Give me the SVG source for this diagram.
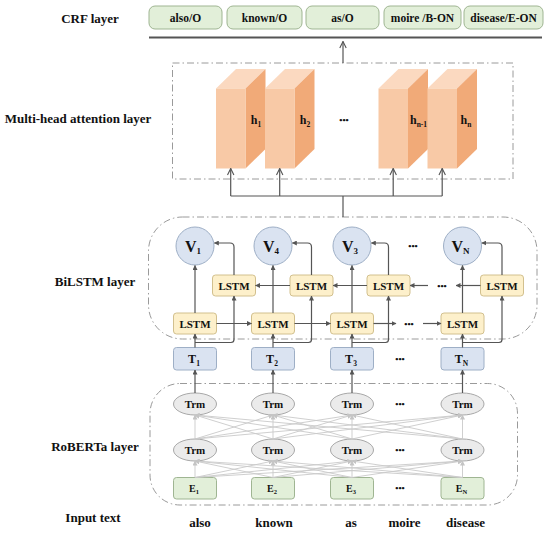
<svg xmlns="http://www.w3.org/2000/svg" width="550" height="533" viewBox="0 0 550 533">
<defs>
<style>
text{font-family:"Liberation Serif","Times New Roman",serif;font-weight:bold;fill:#111;text-anchor:middle}
.lbl{font-size:13px}
.crf{fill:#e2efd9;stroke:#9fb592;stroke-width:1}
.ct{font-size:11.5px}
.dash{fill:none;stroke:#9a9a9a;stroke-width:1;stroke-dasharray:7,3,1.5,3}
.front{fill:#f8c9a6}
.side{fill:#f1aa78}
.top{fill:#fbd9c0}
.lstm{fill:#fdf0cb;stroke:#d2c08e;stroke-width:1}
.lt{font-size:11px}
.blue{fill:#dae3f1;stroke:#9eafc6;stroke-width:1}
.trm{fill:#ebebeb;stroke:#a8a8a8;stroke-width:1}
.green{fill:#e2efd9;stroke:#9fb592;stroke-width:1}
.ln{fill:none;stroke:#555;stroke-width:1.2}
.lo{fill:none;stroke:#555;stroke-width:1.2;marker-end:url(#open)}
.lf{fill:none;stroke:#555;stroke-width:1.2;marker-end:url(#fill)}
.lg{fill:none;stroke:#c9c9c9;stroke-width:0.9;marker-end:url(#gray)}
.dots{font-size:9px}
</style>
<marker id="open" viewBox="0 0 10 10" refX="9" refY="5" markerWidth="8" markerHeight="8" orient="auto" markerUnits="userSpaceOnUse"><path d="M1,1 L9,5 L1,9" fill="none" stroke="#555" stroke-width="1.4"/></marker>
<marker id="fill" viewBox="0 0 10 10" refX="9" refY="5" markerWidth="5" markerHeight="5" orient="auto" markerUnits="userSpaceOnUse"><path d="M0,0 L10,5 L0,10 z" fill="#555"/></marker>
<marker id="gray" viewBox="0 0 10 10" refX="9" refY="5" markerWidth="5" markerHeight="5" orient="auto" markerUnits="userSpaceOnUse"><path d="M0,0 L10,5 L0,10 z" fill="#c4c4c4"/></marker>
</defs>
<rect width="550" height="533" fill="#fff"/>

<g id="labels">
<text class="lbl" x="90" y="23">CRF layer</text>
<text class="lbl" x="78" y="123">Multi-head attention layer</text>
<text class="lbl" x="95" y="286">BiLSTM layer</text>
<text class="lbl" x="95" y="451">RoBERTa layer</text>
<text class="lbl" x="93" y="522">Input text</text>
</g>

<g id="frames">
<rect class="dash" x="172.5" y="63" width="340.5" height="116"/>
<rect class="dash" x="148.5" y="217" width="388.5" height="122" rx="34" ry="34"/>
<rect class="dash" x="150" y="383.5" width="367.5" height="121.5" rx="30" ry="30"/>
</g>

<g id="crf">
<g id="crf-also"><rect class="crf" x="149" y="6" width="73" height="23" rx="6"/><text class="ct" x="185.5" y="21.5">also/O</text></g>
<g id="crf-known"><rect class="crf" x="227" y="6" width="75" height="23" rx="6"/><text class="ct" x="264.5" y="21.5">known/O</text></g>
<g id="crf-as"><rect class="crf" x="306" y="6" width="73" height="23" rx="6"/><text class="ct" x="342.5" y="21.5">as/O</text></g>
<g id="crf-moire"><rect class="crf" x="384" y="6" width="77" height="23" rx="6"/><text class="ct" x="422.5" y="21.5">moire /B-ON</text></g>
<g id="crf-disease"><rect class="crf" x="464" y="6" width="79" height="23" rx="6"/><text class="ct" x="503.5" y="21.5">disease/E-ON</text></g>
<line x1="149" y1="37.5" x2="542" y2="37.5" stroke="#555" stroke-width="2.2"/>
</g>

<g id="heads">
<g id="h1"><polygon class="top" points="216,88.5 245.5,88.5 265.5,69 236,69"/><polygon class="side" points="245.5,88.5 265.5,69 265.5,149 245.5,168.5"/><rect class="front" x="216" y="88.5" width="29.5" height="80"/><text x="256" y="124" style="font-size:12px">h<tspan style="font-size:7.5px" dy="2.5">1</tspan></text></g>
<g id="h2"><polygon class="top" points="265,88.5 294.5,88.5 314.5,69 285,69"/><polygon class="side" points="294.5,88.5 314.5,69 314.5,149 294.5,168.5"/><rect class="front" x="265" y="88.5" width="29.5" height="80"/><text x="305" y="124" style="font-size:12px">h<tspan style="font-size:7.5px" dy="2.5">2</tspan></text></g>
<g id="h3"><polygon class="top" points="378.5,88.5 408,88.5 428,69 398.5,69"/><polygon class="side" points="408,88.5 428,69 428,149 408,168.5"/><rect class="front" x="378.5" y="88.5" width="29.5" height="80"/><text x="418.5" y="124" style="font-size:12px">h<tspan style="font-size:7.5px" dy="2.5">n-1</tspan></text></g>
<g id="h4"><polygon class="top" points="427.5,88.5 457,88.5 477,69 447.5,69"/><polygon class="side" points="457,88.5 477,69 477,149 457,168.5"/><rect class="front" x="427.5" y="88.5" width="29.5" height="80"/><text x="466" y="124" style="font-size:12px">h<tspan style="font-size:7.5px" dy="2.5">n</tspan></text></g>
<text class="dots" x="344" y="123">•••</text>
</g>

<g id="v-nodes">
<g id="v1"><circle class="blue" cx="195" cy="246" r="19"/><text x="193" y="251.5" style="font-size:16px">V<tspan style="font-size:9px" dy="2.5">1</tspan></text></g>
<g id="v4"><circle class="blue" cx="273" cy="246" r="19"/><text x="271" y="251.5" style="font-size:16px">V<tspan style="font-size:9px" dy="2.5">4</tspan></text></g>
<g id="v3"><circle class="blue" cx="352" cy="246" r="19"/><text x="350" y="251.5" style="font-size:16px">V<tspan style="font-size:9px" dy="2.5">3</tspan></text></g>
<g id="vN"><circle class="blue" cx="462.5" cy="246" r="19"/><text x="460.5" y="251.5" style="font-size:16px">V<tspan style="font-size:9px" dy="2.5">N</tspan></text></g>
<text class="dots" x="413" y="249">•••</text>
</g>

<g id="lstm-backward">
<g id="lb1"><rect class="lstm" x="212.5" y="275" width="43" height="21" rx="3"/><text class="lt" x="234" y="289.5">LSTM</text></g>
<g id="lb2"><rect class="lstm" x="290" y="275" width="43" height="21" rx="3"/><text class="lt" x="311.5" y="289.5">LSTM</text></g>
<g id="lb3"><rect class="lstm" x="367" y="275" width="43" height="21" rx="3"/><text class="lt" x="388.5" y="289.5">LSTM</text></g>
<g id="lb4"><rect class="lstm" x="480.5" y="275" width="43" height="21" rx="3"/><text class="lt" x="502" y="289.5">LSTM</text></g>
<text class="dots" x="442" y="289">•••</text>
</g>

<g id="lstm-forward">
<g id="lf1"><rect class="lstm" x="173.5" y="313" width="43" height="21" rx="3"/><text class="lt" x="195" y="327.5">LSTM</text></g>
<g id="lf2"><rect class="lstm" x="251.5" y="313" width="43" height="21" rx="3"/><text class="lt" x="273" y="327.5">LSTM</text></g>
<g id="lf3"><rect class="lstm" x="330.5" y="313" width="43" height="21" rx="3"/><text class="lt" x="352" y="327.5">LSTM</text></g>
<g id="lf4"><rect class="lstm" x="441" y="313" width="43" height="21" rx="3"/><text class="lt" x="462.5" y="327.5">LSTM</text></g>
<text class="dots" x="409" y="327">•••</text>
</g>

<g id="t-nodes">
<g id="t1"><rect class="blue" x="173.5" y="347.5" width="43" height="22.5" rx="3"/><text x="194" y="363" style="font-size:12px">T<tspan style="font-size:7.5px" dy="2.5">1</tspan></text></g>
<g id="t2"><rect class="blue" x="251.5" y="347.5" width="43" height="22.5" rx="3"/><text x="272" y="363" style="font-size:12px">T<tspan style="font-size:7.5px" dy="2.5">2</tspan></text></g>
<g id="t3"><rect class="blue" x="330.5" y="347.5" width="43" height="22.5" rx="3"/><text x="351" y="363" style="font-size:12px">T<tspan style="font-size:7.5px" dy="2.5">3</tspan></text></g>
<g id="tN"><rect class="blue" x="441" y="347.5" width="43" height="22.5" rx="3"/><text x="461.5" y="363" style="font-size:12px">T<tspan style="font-size:7.5px" dy="2.5">N</tspan></text></g>
<text class="dots" x="400" y="362">•••</text>
</g>

<g id="trm-top">
<g id="trm1a"><ellipse class="trm" cx="195" cy="404" rx="21.5" ry="11"/><text class="lt" x="195" y="408">Trm</text></g>
<g id="trm2a"><ellipse class="trm" cx="273" cy="404" rx="21.5" ry="11"/><text class="lt" x="273" y="408">Trm</text></g>
<g id="trm3a"><ellipse class="trm" cx="352" cy="404" rx="21.5" ry="11"/><text class="lt" x="352" y="408">Trm</text></g>
<g id="trm4a"><ellipse class="trm" cx="462.5" cy="404" rx="21.5" ry="11"/><text class="lt" x="462.5" y="408">Trm</text></g>
<text class="dots" x="400" y="407">•••</text>
</g>

<g id="trm-bottom">
<g id="trm1b"><ellipse class="trm" cx="195" cy="450" rx="21.5" ry="11"/><text class="lt" x="195" y="454">Trm</text></g>
<g id="trm2b"><ellipse class="trm" cx="273" cy="450" rx="21.5" ry="11"/><text class="lt" x="273" y="454">Trm</text></g>
<g id="trm3b"><ellipse class="trm" cx="352" cy="450" rx="21.5" ry="11"/><text class="lt" x="352" y="454">Trm</text></g>
<g id="trm4b"><ellipse class="trm" cx="462.5" cy="450" rx="21.5" ry="11"/><text class="lt" x="462.5" y="454">Trm</text></g>
<text class="dots" x="400" y="453">•••</text>
</g>

<g id="e-nodes">
<g id="e1"><rect class="green" x="173.5" y="477.5" width="43" height="21.5" rx="3"/><text x="194" y="491.5" style="font-size:10px">E<tspan style="font-size:6.5px" dy="2">1</tspan></text></g>
<g id="e2"><rect class="green" x="251.5" y="477.5" width="43" height="21.5" rx="3"/><text x="272" y="491.5" style="font-size:10px">E<tspan style="font-size:6.5px" dy="2">2</tspan></text></g>
<g id="e3"><rect class="green" x="330.5" y="477.5" width="43" height="21.5" rx="3"/><text x="351" y="491.5" style="font-size:10px">E<tspan style="font-size:6.5px" dy="2">3</tspan></text></g>
<g id="eN"><rect class="green" x="441" y="477.5" width="43" height="21.5" rx="3"/><text x="461.5" y="491.5" style="font-size:10px">E<tspan style="font-size:6.5px" dy="2">N</tspan></text></g>
<text class="dots" x="400" y="491">•••</text>
</g>

<g id="words">
<text class="lbl" x="200" y="527">also</text>
<text class="lbl" x="274" y="527">known</text>
<text class="lbl" x="351" y="527">as</text>
<text class="lbl" x="404.5" y="527">moire</text>
<text class="lbl" x="465.5" y="527">disease</text>
</g>

<g id="connectors">
<line class="lo" x1="343" y1="63" x2="343" y2="41.5"/>
<line class="ln" x1="343" y1="217" x2="343" y2="196"/>
<line class="ln" x1="230.7" y1="196" x2="442.2" y2="196"/>
<line class="lo" x1="230.7" y1="196" x2="230.7" y2="168.5"/>
<line class="lo" x1="279.7" y1="196" x2="279.7" y2="168.5"/>
<line class="lo" x1="393.2" y1="196" x2="393.2" y2="168.5"/>
<line class="lo" x1="442.2" y1="196" x2="442.2" y2="168.5"/>

<line class="lf" x1="195" y1="313" x2="195" y2="265.5"/>
<line class="lf" x1="273" y1="313" x2="273" y2="265.5"/>
<line class="lf" x1="352" y1="313" x2="352" y2="265.5"/>
<line class="lf" x1="462.5" y1="313" x2="462.5" y2="265.5"/>

<path class="lf" d="M234,275 V247 Q234,243 230,243 H214.3"/>
<path class="lf" d="M311.5,275 V247 Q311.5,243 307.5,243 H292.3"/>
<path class="lf" d="M388.5,275 V247 Q388.5,243 384.5,243 H371.3"/>
<path class="lf" d="M502,275 V247 Q502,243 498,243 H481.8"/>

<line class="lf" x1="216.5" y1="323.5" x2="251.5" y2="323.5"/>
<line class="lf" x1="294.5" y1="323.5" x2="330.5" y2="323.5"/>
<line class="lf" x1="373.5" y1="323.5" x2="396" y2="323.5"/>
<line class="lf" x1="423" y1="323.5" x2="441" y2="323.5"/>

<line class="lf" x1="290" y1="285.5" x2="255.5" y2="285.5"/>
<line class="lf" x1="367" y1="285.5" x2="333" y2="285.5"/>
<line class="lf" x1="428" y1="285.5" x2="410" y2="285.5"/>
<line class="lf" x1="480.5" y1="285.5" x2="456" y2="285.5"/>

<line class="lf" x1="195" y1="347.5" x2="195" y2="334"/>
<line class="lf" x1="273" y1="347.5" x2="273" y2="334"/>
<line class="lf" x1="352" y1="347.5" x2="352" y2="334"/>
<line class="lf" x1="462.5" y1="347.5" x2="462.5" y2="334"/>
<path class="lf" d="M195,342.5 H231 Q234,342.5 234,339.5 V296"/>
<path class="lf" d="M273,342.5 H308.5 Q311.5,342.5 311.5,339.5 V296"/>
<path class="lf" d="M352,342.5 H385.5 Q388.5,342.5 388.5,339.5 V296"/>
<path class="lf" d="M462.5,342.5 H499 Q502,342.5 502,339.5 V296"/>

<line class="lf" x1="195" y1="393" x2="195" y2="370"/>
<line class="lf" x1="273" y1="393" x2="273" y2="370"/>
<line class="lf" x1="352" y1="393" x2="352" y2="370"/>
<line class="lf" x1="462.5" y1="393" x2="462.5" y2="370"/>

<g id="trm-links">
<line class="lg" x1="195" y1="439" x2="195" y2="415"/>
<line class="lg" x1="195" y1="439" x2="273" y2="415"/>
<line class="lg" x1="195" y1="439" x2="352" y2="415"/>
<line class="lg" x1="195" y1="439" x2="462.5" y2="415"/>
<line class="lg" x1="273" y1="439" x2="195" y2="415"/>
<line class="lg" x1="273" y1="439" x2="273" y2="415"/>
<line class="lg" x1="273" y1="439" x2="352" y2="415"/>
<line class="lg" x1="273" y1="439" x2="462.5" y2="415"/>
<line class="lg" x1="352" y1="439" x2="195" y2="415"/>
<line class="lg" x1="352" y1="439" x2="273" y2="415"/>
<line class="lg" x1="352" y1="439" x2="352" y2="415"/>
<line class="lg" x1="352" y1="439" x2="462.5" y2="415"/>
<line class="lg" x1="462.5" y1="439" x2="195" y2="415"/>
<line class="lg" x1="462.5" y1="439" x2="273" y2="415"/>
<line class="lg" x1="462.5" y1="439" x2="352" y2="415"/>
<line class="lg" x1="462.5" y1="439" x2="462.5" y2="415"/>

<line class="lg" x1="195" y1="477.5" x2="195" y2="461"/>
<line class="lg" x1="195" y1="477.5" x2="273" y2="461"/>
<line class="lg" x1="195" y1="477.5" x2="352" y2="461"/>
<line class="lg" x1="195" y1="477.5" x2="462.5" y2="461"/>
<line class="lg" x1="273" y1="477.5" x2="195" y2="461"/>
<line class="lg" x1="273" y1="477.5" x2="273" y2="461"/>
<line class="lg" x1="273" y1="477.5" x2="352" y2="461"/>
<line class="lg" x1="273" y1="477.5" x2="462.5" y2="461"/>
<line class="lg" x1="352" y1="477.5" x2="195" y2="461"/>
<line class="lg" x1="352" y1="477.5" x2="273" y2="461"/>
<line class="lg" x1="352" y1="477.5" x2="352" y2="461"/>
<line class="lg" x1="352" y1="477.5" x2="462.5" y2="461"/>
<line class="lg" x1="462.5" y1="477.5" x2="195" y2="461"/>
<line class="lg" x1="462.5" y1="477.5" x2="273" y2="461"/>
<line class="lg" x1="462.5" y1="477.5" x2="352" y2="461"/>
<line class="lg" x1="462.5" y1="477.5" x2="462.5" y2="461"/>
</g>
</g>
</svg>
